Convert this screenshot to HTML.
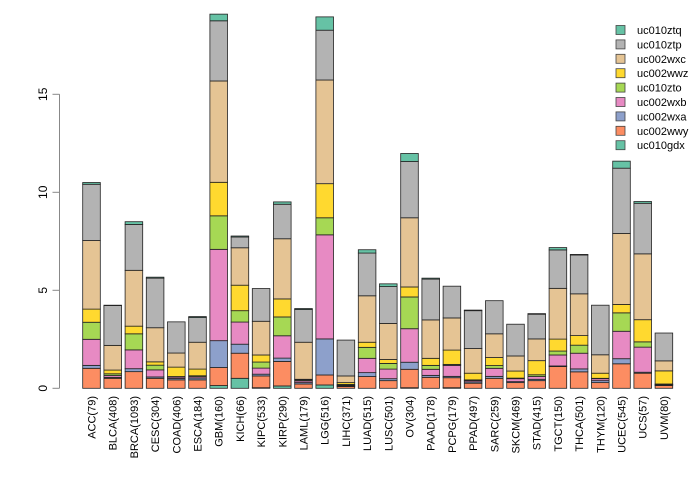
<!DOCTYPE html>
<html><head><meta charset="utf-8"><style>
body{margin:0;background:#fff}
svg{display:block}
text{font-family:"Liberation Sans",sans-serif;fill:#000}
</style></head><body>
<svg id="chart" width="700" height="480"></svg>
<script>
const categories=["ACC(79)","BLCA(408)","BRCA(1093)","CESC(304)","COAD(406)","ESCA(184)","GBM(160)","KICH(66)","KIPC(533)","KIRP(290)","LAML(179)","LGG(516)","LIHC(371)","LUAD(515)","LUSC(501)","OV(304)","PAAD(178)","PCPG(179)","PPAD(497)","SARC(259)","SKCM(469)","STAD(415)","TGCT(150)","THCA(501)","THYM(120)","UCEC(545)","UCS(57)","UVM(80)"];
const seriesNames=["uc010gdx","uc002wwy","uc002wxa","uc002wxb","uc010zto","uc002wwz","uc002wxc","uc010ztp","uc010ztq"];
const seriesColors=["#66C2A5","#FC8D62","#8DA0CB","#E78AC3","#A6D854","#FFD92F","#E5C494","#B3B3B3","#66C2A5"];
const uc010gdx=[0,0,0,0,0,0,0.14,0.51,0.03,0.12,0,0.17,0,0,0,0.03,0,0.03,0,0,0,0,0,0,0,0,0,0];
const uc002wwy=[1.02,0.51,0.85,0.51,0.43,0.43,0.92,1.28,0.60,1.25,0.22,0.51,0.09,0.60,0.39,0.94,0.56,0.51,0.26,0.51,0.29,0.39,1.11,0.84,0.29,1.25,0.77,0.14];
const uc002wxa=[0.15,0.05,0.15,0.07,0.07,0.09,1.37,0.46,0.09,0.17,0.07,1.84,0.03,0.20,0.10,0.36,0.10,0.07,0.07,0.10,0.05,0.07,0.03,0.15,0.10,0.26,0.05,0.03];
const uc002wxb=[1.33,0.09,0.96,0.36,0.07,0.07,4.66,1.13,0.31,1.14,0.09,5.31,0.03,0.73,0.49,1.71,0.31,0.56,0.07,0.41,0.15,0.14,0.56,0.80,0.10,1.40,1.28,0.02];
const uc010zto=[0.87,0.09,0.82,0.24,0.03,0.05,1.71,0.58,0.31,0.96,0.05,0.87,0.05,0.56,0.29,1.62,0.20,0.05,0.03,0.14,0.03,0.09,0.20,0.41,0.02,0.94,0.27,0.03];
const uc002wwz=[0.67,0.19,0.39,0.17,0.48,0.34,1.71,1.30,0.36,0.92,0.03,1.74,0.09,0.26,0.20,0.51,0.36,0.73,0.34,0.41,0.36,0.72,0.61,0.49,0.26,0.43,1.13,0.67];
const uc002wxc=[3.50,1.26,2.85,1.74,0.72,1.37,5.17,1.91,1.72,3.07,1.89,5.29,0.34,2.37,1.84,3.53,1.96,1.64,1.26,1.21,0.77,1.11,2.59,2.13,0.94,3.62,3.36,0.51];
const uc010ztp=[2.87,2.03,2.34,2.53,1.59,1.26,3.07,0.55,1.67,1.76,1.67,2.54,1.83,2.18,1.88,2.87,2.08,1.62,1.93,1.69,1.62,1.26,1.96,1.98,2.53,3.33,2.58,1.42];
const uc010ztq=[0.09,0.02,0.14,0.05,0,0.05,0.34,0.05,0,0.12,0.05,0.68,0,0.17,0.14,0.41,0.05,0,0.03,0,0,0.03,0.12,0.03,0,0.36,0.09,0];
const yTicks=[0,5,10,15];
const seriesData=[uc010gdx,uc002wwy,uc002wxa,uc002wxb,uc010zto,uc002wwz,uc002wxc,uc010ztp,uc010ztq];

const NS="http://www.w3.org/2000/svg";
const svg=document.getElementById('chart');
function mk(t,a,p){const e=document.createElementNS(NS,t);for(const k in a)e.setAttribute(k,a[k]);(p||svg).appendChild(e);return e;}
const y0=388.3,pxPer=(388.3-94.3)/15;
function yS(v){return y0-v*pxPer;}
const x0=91.5,step=21.2,bw=17.6;
function xS(i){return x0+i*step;}

const yAxis=mk('g',{});


mk('line',{x1:59.5,x2:59.5,y1:yS(0),y2:yS(15),stroke:'#888','stroke-width':1},yAxis);
yTicks.forEach(t=>{
  mk('line',{x1:52.5,x2:59.5,y1:yS(t),y2:yS(t),stroke:'#888','stroke-width':1},yAxis);
  const tx=mk('text',{x:0,y:0,'font-size':12,'text-anchor':'middle',transform:`translate(47,${yS(t)}) rotate(-90)`},yAxis);
  
  
  tx.textContent=t;
});

categories.forEach((c,i)=>{
  const g=mk('g',{});
  
  
  let cum=0;
  seriesData.forEach((s,k)=>{
    const v=s[i];
    const r=mk('rect',{x:xS(i)-bw/2,y:yS(cum+v),width:bw,height:v*pxPer,fill:seriesColors[k],stroke:'#222','stroke-width':0.8},g);
    
    
    cum+=v;
  });
  const tx=mk('text',{x:0,y:0,'font-size':11,'text-anchor':'end',transform:`translate(${xS(i)+4},396) rotate(-90)`});
  
  
  tx.textContent=c;
});

const leg=mk('g',{});


for(let k=8;k>=0;k--){
  const row=8-k, yy=30+row*14.4;
  const e=mk('g',{},leg);
  
  
  mk('rect',{x:616,y:yy-4.5,width:9,height:9,fill:seriesColors[k],stroke:'#444','stroke-width':0.8},e);
  const t=mk('text',{x:637,y:yy+4,'font-size':11},e);
  t.textContent=seriesNames[k];
}
</script>
</body></html>
